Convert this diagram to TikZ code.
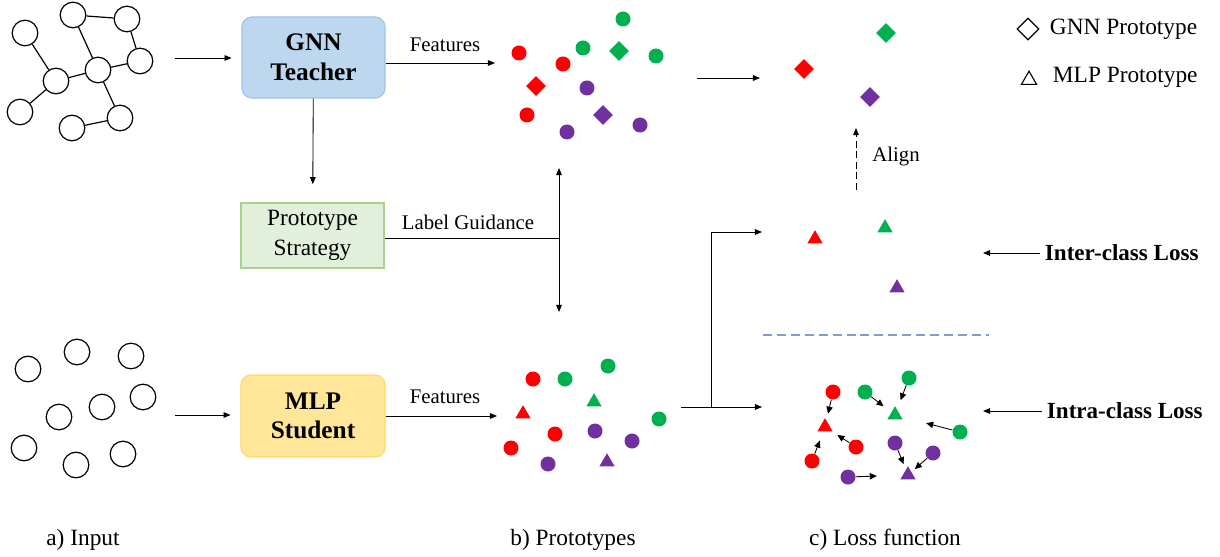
\documentclass[tikz,border=0pt]{standalone}
\usepackage{fontspec}
\setmainfont{Liberation Serif}
\usetikzlibrary{arrows.meta,positioning,calc,shapes.geometric}
\definecolor{Ink}{HTML}{000000}
\definecolor{ClsRed}{HTML}{FF0000}
\definecolor{ClsGreen}{HTML}{00B050}
\definecolor{ClsPurple}{HTML}{7030A0}
\definecolor{TeachFill}{HTML}{BDD7EE}
\definecolor{TeachLine}{HTML}{9DC3E6}
\definecolor{StratFill}{HTML}{E2EFDA}
\definecolor{StratLine}{HTML}{A9D18E}
\definecolor{StudFill}{HTML}{FFE699}
\definecolor{StudLine}{HTML}{FFD966}
\definecolor{SepBlue}{HTML}{7F9FD4}
\tikzset{
  gnode/.style={circle,draw=Ink,line width=0.85pt,minimum size=0.64cm,inner sep=0pt},
  dot/.style={circle,fill=#1,minimum size=0.375cm,inner sep=0pt},
  gproto/.style={diamond,fill=#1,minimum size=0.5cm,inner sep=0pt},
  mproto/.style={regular polygon,regular polygon sides=3,fill=#1,minimum size=0.44cm,inner sep=0pt},
  teacherbox/.style={draw=TeachLine,fill=TeachFill,line width=0.8pt,rounded corners=7pt,minimum width=3.575cm,minimum height=2.025cm,align=center,font=\fontsize{18}{21}\selectfont\bfseries,text=Ink},
  studentbox/.style={draw=StudLine,fill=StudFill,line width=0.8pt,rounded corners=7pt,minimum width=3.6cm,minimum height=2.05cm,align=center,font=\fontsize{18}{21}\selectfont\bfseries,text=Ink},
  stratbox/.style={draw=StratLine,fill=StratFill,line width=0.8pt,minimum width=3.575cm,minimum height=1.625cm,align=center,font=\fontsize{16.6}{21}\selectfont,text=Ink},
  line/.style={-{Triangle[length=5pt,width=4pt]},draw=Ink,line width=0.6pt},
  pull/.style={-{Triangle[length=5pt,width=4.5pt]},draw=Ink,line width=0.6pt},
  sepline/.style={draw=SepBlue,line width=1pt,dash pattern=on 6.4pt off 3.5pt},
  lbl/.style={font=\fontsize{14.8}{17}\selectfont,text=Ink},
  txt/.style={font=\fontsize{16.6}{20}\selectfont,text=Ink},
  losslbl/.style={font=\fontsize{16.4}{20}\selectfont\bfseries,text=Ink}
}
\begin{document}
\begin{tikzpicture}[x=0.025cm,y=-0.025cm]
  \useasboundingbox (0,0) rectangle (1220,557);

  % input graph and bare nodes
  \foreach \n/\x/\y in {a/73/15,b/127/19,c/25/33,d/140/61,e/98/70,f/56/81,g/20/112,h/120/118,i/72/128}
    \node[gnode] (\n) at (\x,\y) {};
  \foreach \u/\v in {a/b,a/e,b/d,d/e,e/f,c/f,f/g,e/h,h/i}
    \draw[line width=0.85pt] (\u) -- (\v);
  \foreach \n/\x/\y in {1/77/352,2/131/356,3/28/369,4/143/397,5/102/407,6/59/417,7/24/448,8/76/465,9/123/454}
    \node[gnode] (s\n) at (\x,\y) {};

  % models
  \node[teacherbox] (gnn) at (313.5,57.5) {GNN\\Teacher};
  \node[stratbox] (strat) at (312.5,235.5) {Prototype\\Strategy};
  \node[studentbox] (mlp) at (313,416) {MLP\\Student};

  \coordinate (gin) at (175,58);
  \coordinate (min) at (175,415);
  \draw[line,shorten >=7pt] (gin) -- (gin -| gnn.west);
  \draw[line,shorten >=7pt] (min) -- (min -| mlp.west);
  \draw[line,shorten >=13pt] (gnn) -- (strat);

  \coordinate (tfeat) at (495,63);
  \coordinate (bfeat) at (497,416);
  \draw[line] (gnn.east |- tfeat) -- (tfeat);
  \draw[line] (mlp.east |- bfeat) -- (bfeat);
  \node[lbl] (tflbl) at (445,45) {Features};
  \node[lbl] (bflbl) at (445,397) {Features};

  \coordinate (guide) at (559,238);
  \coordinate (gup) at (559,168);
  \coordinate (gdown) at (559,312);
  \draw[line width=0.6pt,draw=Ink] (strat.east |- guide) -- (guide);
  \draw[line,{Triangle[length=5pt,width=4pt]}-{Triangle[length=5pt,width=4pt]}] (gup) -- (gdown);
  \node[lbl] (glbl) at (468,222) {Label Guidance};

  % teacher features
  \foreach \n/\x/\y/\c in {1/623/19/ClsGreen,2/519/53/ClsRed,3/583/48/ClsGreen,4/656/56/ClsGreen,5/563/64/ClsRed,6/587/88/ClsPurple,7/527/115/ClsRed,8/640/125/ClsPurple,9/567/132/ClsPurple}
    \node[dot=\c] (t\n) at (\x,\y) {};
  \node[gproto=ClsGreen] (tg) at (619,51) {};
  \node[gproto=ClsRed] (tr) at (536,86) {};
  \node[gproto=ClsPurple] (tu) at (603,115) {};

  % student features
  \foreach \n/\x/\y/\c in {1/533/379/ClsRed,2/565/379/ClsGreen,3/608/366/ClsGreen,4/659/419/ClsGreen,5/555/434/ClsRed,6/595/431/ClsPurple,7/632/441/ClsPurple,8/511/448/ClsRed,9/548/464/ClsPurple}
    \node[dot=\c] (b\n) at (\x,\y) {};
  \node[mproto=ClsGreen] (bg) at (594,402) {};
  \node[mproto=ClsRed] (br) at (523,414) {};
  \node[mproto=ClsPurple] (bu) at (607,462) {};

  % teacher prototypes
  \coordinate (pout) at (697,78);
  \coordinate (pin) at (760,78);
  \draw[line] (pout) -- (pin);
  \node[gproto=ClsGreen] (pg) at (886,33) {};
  \node[gproto=ClsRed] (pr) at (804,69) {};
  \node[gproto=ClsPurple] (pu) at (870,97) {};

  \coordinate (alfoot) at (856,190);
  \coordinate (altip) at (856,128);
  \draw[line,dash pattern=on 5pt off 2.5pt] (alfoot) -- (altip);
  \node[lbl] (align) at (896,157) {Align};

  % student prototypes
  \coordinate (sout) at (681,407);
  \coordinate (ssplit) at (711,407);
  \coordinate (sintra) at (762,407);
  \coordinate (sinter) at (762,232);
  \draw[line] (sout) -- (sintra);
  \draw[line] (ssplit) |- (sinter);
  \node[mproto=ClsRed] (ir) at (815,239) {};
  \node[mproto=ClsGreen] (ig) at (885,228) {};
  \node[mproto=ClsPurple] (iu) at (897,288) {};

  \coordinate (sepl) at (763,335);
  \coordinate (sepr) at (989,335);
  \draw[sepline] (sepl) -- (sepr);

  % intra-class pull
  \foreach \n/\x/\y/\c in {r1/833/392/ClsRed,r2/856/447/ClsRed,r3/812/461/ClsRed,g1/865/392/ClsGreen,g2/909/378/ClsGreen,g3/960/432/ClsGreen,u1/895/443/ClsPurple,u2/933/453/ClsPurple,u3/848/477/ClsPurple}
    \node[dot=\c] (\n) at (\x,\y) {};
  \node[mproto=ClsRed] (rt) at (825,427) {};
  \node[mproto=ClsGreen] (gt) at (895,415) {};
  \node[mproto=ClsPurple] (ut) at (908,475) {};
  \foreach \s/\t/\f in {r1/rt/0.62,r2/rt/0.6,r3/rt/0.6,g1/gt/0.62,g2/gt/0.6,g3/gt/0.52,u1/ut/0.66,u2/ut/0.73,u3/ut/0.48}
    \draw[pull] (\s) -- ($(\s)!\f!(\t)$);

  % losses
  \node[losslbl,anchor=west] (inter) at (1040,253) {Inter-class Loss};
  \node[losslbl,anchor=west] (intra) at (1042,411) {Intra-class Loss};
  \coordinate (intertip) at (983,253);
  \coordinate (intratip) at (983,411);
  \draw[line] (inter) -- (intertip);
  \draw[line] (intra) -- (intratip);

  % legend
  \node[diamond,draw=Ink,line width=0.8pt,minimum size=0.55cm,inner sep=0pt] (lgnn) at (1028,29) {};
  \node[regular polygon,regular polygon sides=3,draw=Ink,line width=0.8pt,minimum size=0.44cm,inner sep=0pt] (lmlp) at (1029,80) {};
  \node[txt,anchor=west] (lgtxt) at (1045,29) {GNN Prototype};
  \node[txt,anchor=west] (lmtxt) at (1048,77) {MLP Prototype};

  % captions
  \node[txt] (capa) at (83,540) {a) Input};
  \node[txt] (capb) at (573,540) {b) Prototypes};
  \node[txt] (capc) at (885,540) {c) Loss function};
\end{tikzpicture}
\end{document}
